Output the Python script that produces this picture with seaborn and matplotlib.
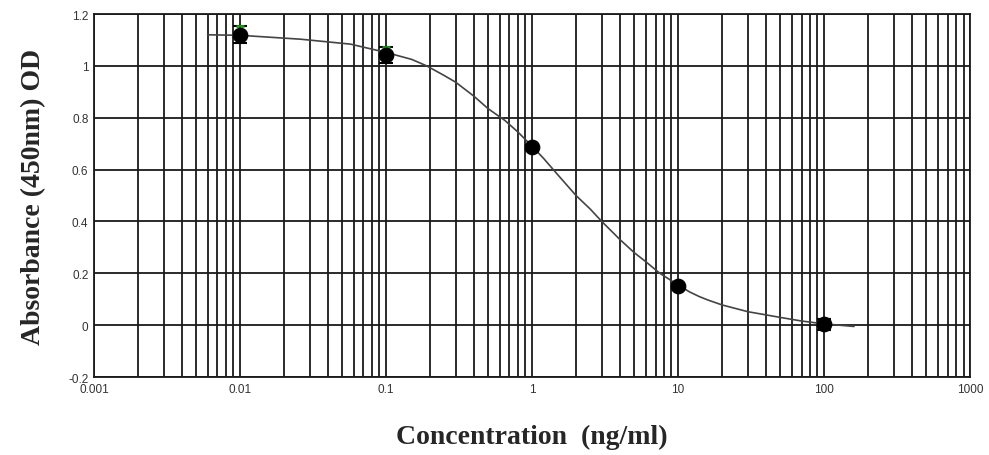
import numpy as np
import pandas as pd
import matplotlib
matplotlib.use("Agg")
import matplotlib.pyplot as plt
import seaborn as sns
from matplotlib.ticker import FixedLocator, LogLocator, NullFormatter

# measured standards
conc = [0.01, 0.1, 1, 10, 100]
od = [1.12, 1.042, 0.686, 0.150, 0.003]
od_err = [0.032, 0.030, 0.010, 0.010, 0.022]

# fitted curve
curve_x = [0.006, 0.01, 0.026, 0.057, 0.1, 0.15, 0.19, 0.25, 0.3, 0.4, 0.5, 0.65,
           0.8, 1, 1.2, 1.5, 2, 2.5, 3, 4, 5, 6, 7.5, 10, 12, 14, 16, 20, 30, 50,
           70, 100, 160]
curve_y = [1.12, 1.118, 1.103, 1.084, 1.052, 1.025, 1.0, 0.963, 0.937, 0.883,
           0.835, 0.79, 0.745, 0.69, 0.643, 0.58, 0.50, 0.448, 0.40, 0.33, 0.28,
           0.245, 0.20, 0.155, 0.128, 0.110, 0.097, 0.078, 0.052, 0.03, 0.016,
           0.005, -0.005]

x_ticks = [0.001, 0.01, 0.1, 1, 10, 100, 1000]
x_tick_labels = ["0.001", "0.01", "0.1", "1", "10", "100", "1000"]
y_ticks = [-0.2, 0, 0.2, 0.4, 0.6, 0.8, 1.0, 1.2]
y_tick_labels = ["-0.2", "0", "0.2", "0.4", "0.6", "0.8", "1", "1.2"]

sns.set_theme(style="white")
plt.rcParams["font.family"] = ["Liberation Sans", "DejaVu Sans"]

fig = plt.figure(figsize=(9.89, 4.56), dpi=100)
ax = fig.add_axes([0.095, 0.171, 0.886, 0.796])
ax.set_xscale("log")
ax.set_xlim(0.001, 1000)
ax.set_ylim(-0.2, 1.2)

# grid
ax.xaxis.set_major_locator(FixedLocator(x_ticks))
ax.xaxis.set_minor_locator(LogLocator(base=10, subs=np.arange(2, 10), numticks=50))
ax.xaxis.set_minor_formatter(NullFormatter())
ax.set_xticks(x_ticks)
ax.set_xticklabels(x_tick_labels)
ax.set_yticks(y_ticks)
ax.set_yticklabels(y_tick_labels)
ax.grid(True, which="major", axis="both", color="#1a1a1a", linewidth=1.3)
ax.grid(True, which="minor", axis="x", color="#1a1a1a", linewidth=1.3)
ax.set_axisbelow(True)
for s in ax.spines.values():
    s.set_color("#1a1a1a")
    s.set_linewidth(1.3)

ax.tick_params(axis="both", which="major", direction="out", length=3, width=1,
               color="#1a1a1a", labelsize=8.5, labelcolor="#333333", pad=1)
ax.tick_params(axis="x", which="minor", length=0)

df_curve = pd.DataFrame({"x": curve_x, "y": curve_y})
sns.lineplot(data=df_curve, x="x", y="y", ax=ax, color="#444444", linewidth=1.2,
             estimator=None, sort=True)

ax.errorbar(conc, od, yerr=od_err, fmt="none", ecolor="black", elinewidth=1.2,
            capsize=5, capthick=1.5, zorder=4)
# green upper caps on the first two standards
ax.scatter(conc[:2], [o + e for o, e in zip(od[:2], od_err[:2])], marker="_",
           s=40, color="#1a9a1a", linewidths=2, zorder=5)
df_pts = pd.DataFrame({"x": conc, "y": od})
sns.scatterplot(data=df_pts, x="x", y="y", ax=ax, color="black", s=110,
                edgecolor="black", zorder=6)

ax.set_xlabel("Concentration  (ng/ml)", fontsize=20, fontweight="bold",
              family=["Liberation Serif", "DejaVu Serif"], labelpad=21)
ax.set_ylabel("Absorbance (450nm) OD", fontsize=20, fontweight="bold",
              family=["Liberation Serif", "DejaVu Serif"], labelpad=16)

fig.savefig("out.png", dpi=100)
